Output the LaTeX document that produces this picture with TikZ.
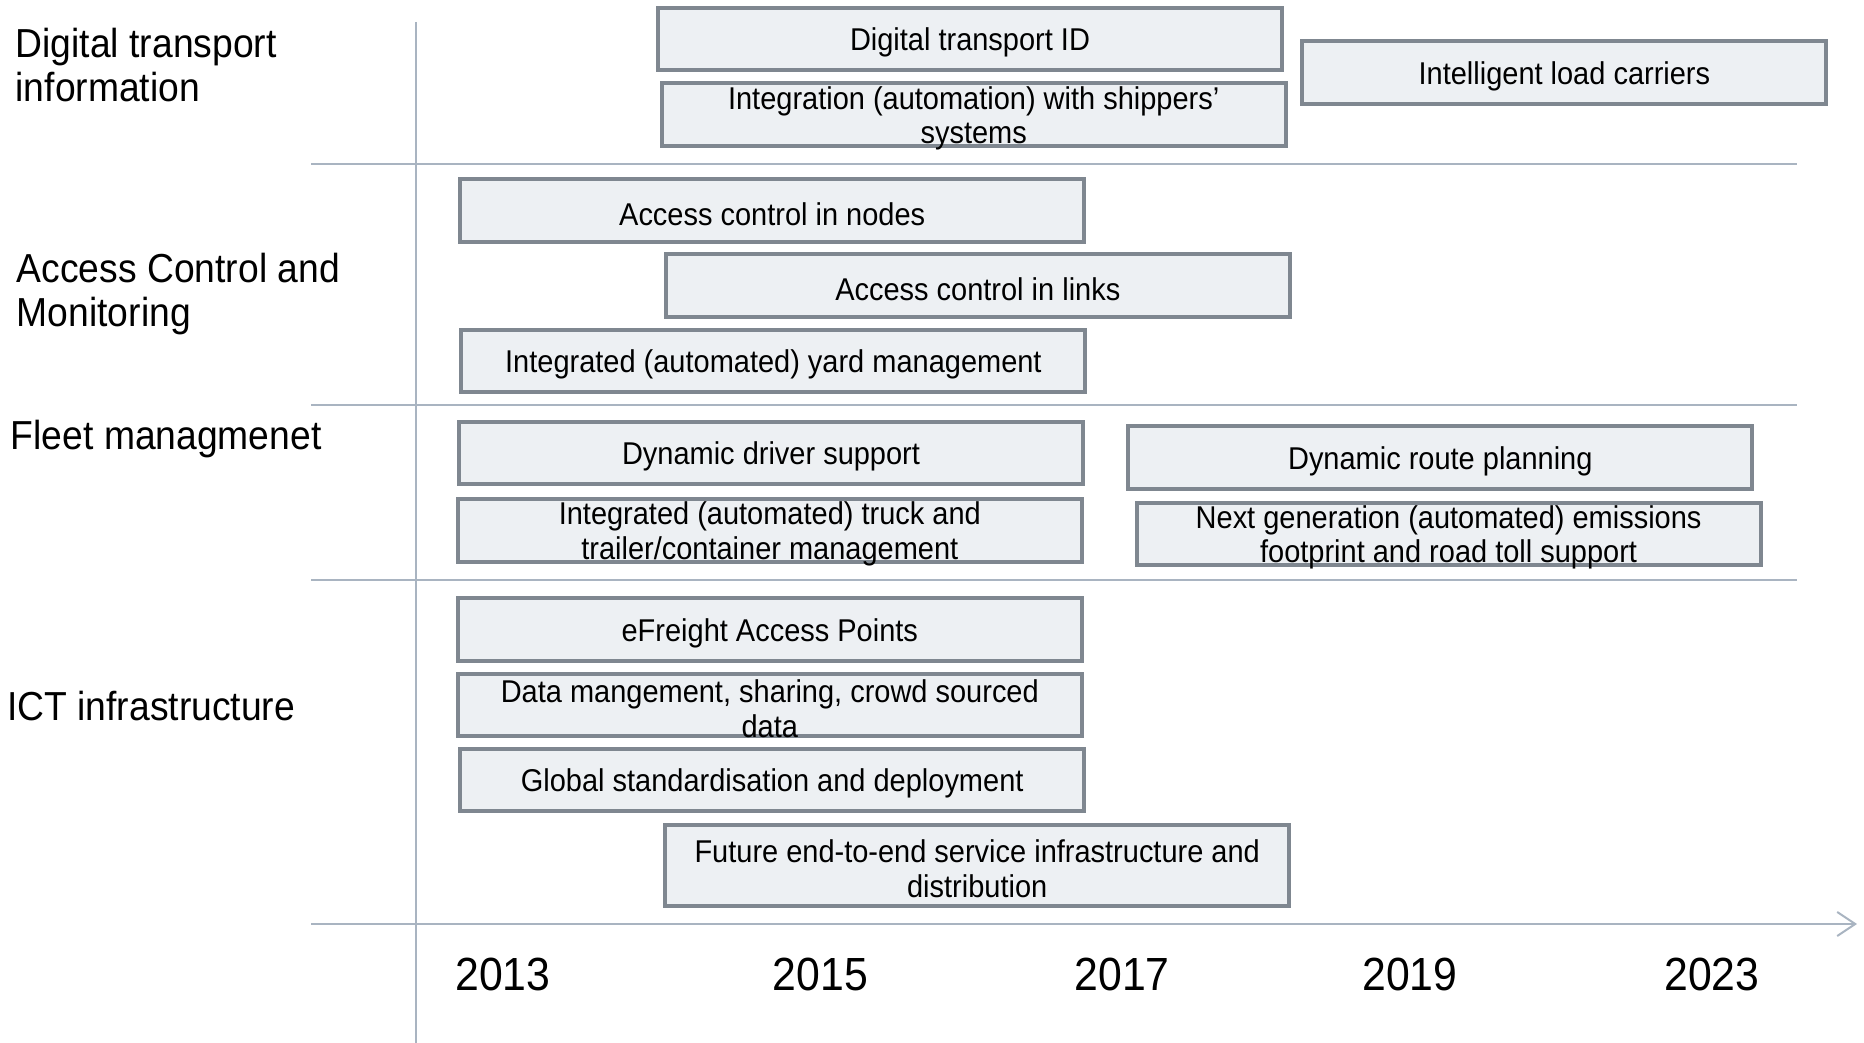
\documentclass[tikz,border=0pt]{standalone}
\usepackage{fontspec}
\setmainfont{Liberation Sans}[FakeStretch=0.92]
\usetikzlibrary{arrows.meta}
\definecolor{boxfill}{HTML}{EDF0F3}
\definecolor{boxline}{HTML}{7F8790}
\definecolor{axisline}{HTML}{A9B4C1}
\begin{document}
\begin{tikzpicture}[x=1pt,y=-1pt,
  box/.style={draw=boxline, fill=boxfill, line width=4pt, minimum width=624pt,
    minimum height=62.6pt, inner sep=0pt,
    label={[btext]center:#1}},
  btext/.style={inner sep=0pt, align=center, yshift=-3.5pt,
    font=\fontsize{31.5}{34.5}\selectfont},
  cat/.style={anchor=west, align=left, inner sep=0pt,
    font=\fontsize{40.5}{44}\selectfont},
  year/.style={inner sep=0pt, font=\fontsize{46.5}{50}\selectfont},
  guide/.style={draw=axisline, line width=2pt}]
\useasboundingbox (0,0) rectangle (1864,1043);
% guide lines
\coordinate (vtop) at (416,22);
\coordinate (vbot) at (416,1043);
\coordinate (s1a) at (311,164); \coordinate (s1b) at (1797,164);
\coordinate (s2a) at (311,405); \coordinate (s2b) at (1797,405);
\coordinate (s3a) at (311,580); \coordinate (s3b) at (1797,580);
\coordinate (axa) at (311,924); \coordinate (axb) at (1857,924);
\draw[guide] (vtop) -- (vbot);
\draw[guide] (s1a) -- (s1b);
\draw[guide] (s2a) -- (s2b);
\draw[guide] (s3a) -- (s3b);
\draw[guide, -{Straight Barb[length=18pt,width=24pt]}] (axa) -- (axb);
% category labels
\node[cat] (c1) at (15.5,64.8) {Digital transport\\information};
\node[cat] (c2) at (16.6,294) {Access Control and\\Monitoring};
\node[cat] (c3) at (10.7,438.6) {Fleet managmenet};
\node[cat] (c4) at (7.1,706.2) {ICT infrastructure};
% boxes
\node[box={Digital transport ID}] (b1) at (970.0,39.2) {};
\node[box={Integration (automation) with shippers’\\systems}] (b2) at (973.7,114.7) {};
\node[box={Intelligent load carriers}, minimum width=524pt] (b3) at (1564.4,72.5) {};
\node[box={Access control in nodes}] (b4) at (772.2,210.4) {};
\node[box={Access control in links}] (b5) at (977.8,285.3) {};
\node[box={Integrated (automated) yard management}] (b6) at (773.4,360.8) {};
\node[box={Dynamic driver support}] (b7) at (771.0,452.9) {};
\node[box={Integrated (automated) truck and\\trailer/container management}] (b8) at (769.8,530.2) {};
\node[box={Dynamic route planning}] (b9) at (1440.3,457.7) {};
\node[box={Next generation (automated) emissions\\footprint and road toll support}] (b10) at (1448.6,533.8) {};
\node[box={eFreight Access Points}] (b11) at (769.8,629.5) {};
\node[box={Data mangement, sharing, crowd sourced\\data}] (b12) at (769.8,705.0) {};
\node[box={Global standardisation and deployment}] (b13) at (772.2,779.9) {};
\node[box={Future end-to-end service infrastructure and\\distribution}, minimum height=81.6pt] (b14) at (977.2,865.4) {};
% years
\node[year] (y1) at (502.9,974.8) {2013};
\node[year] (y2) at (820.3,974.8) {2015};
\node[year] (y3) at (1122.2,974.8) {2017};
\node[year] (y4) at (1409.9,974.8) {2019};
\node[year] (y5) at (1711.9,974.8) {2023};
\end{tikzpicture}
\end{document}
